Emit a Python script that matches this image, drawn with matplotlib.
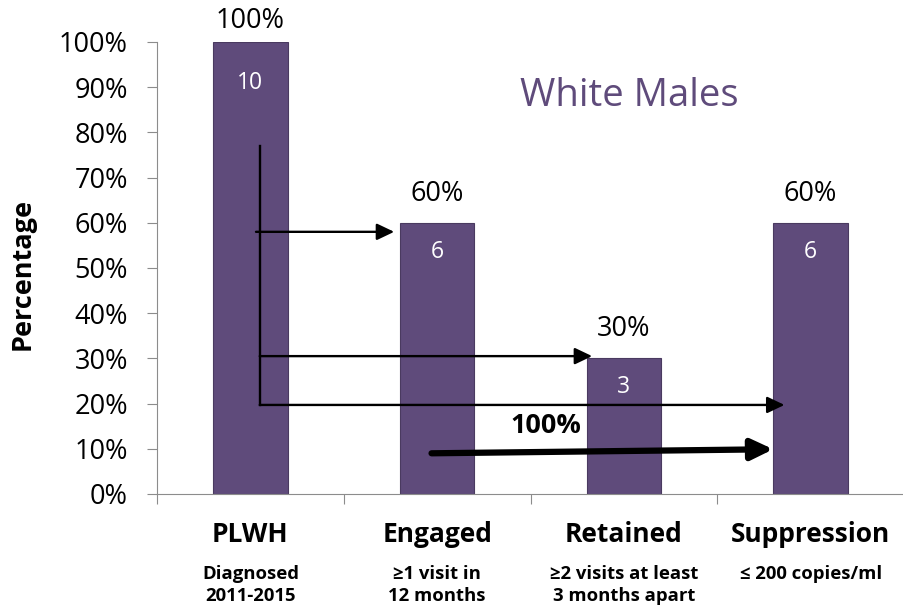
import matplotlib.pyplot as plt

categories = ["PLWH", "Engaged", "Retained", "Suppression"]
subtitles = ["Diagnosed\n2011-2015", "≥1 visit in\n12 months",
             "≥2 visits at least\n3 months apart", "≤ 200 copies/ml"]
percentages = [100, 60, 30, 60]
counts = [10, 6, 3, 6]
ticks = list(range(0, 101, 10))

bar_color = "#5f4b7b"
axis_color = "#8c8c8c"

plt.rcParams["font.family"] = ["Open Sans", "DejaVu Sans"]

fig = plt.figure(figsize=(9.04, 6.05), dpi=100)
ax = fig.add_axes([0.1737, 0.1835, 0.8263, 0.7471])

x = list(range(len(categories)))
ax.bar(x, percentages, width=0.4, color=bar_color, edgecolor="#4a3a60",
       linewidth=0.8, zorder=2)

for xi, p, c in zip(x, percentages, counts):
    top_off = 21 if p >= 100 else 29
    ax.annotate(f"{p}%", (xi, p), xytext=(0, top_off * 0.72),
                textcoords="offset points", ha="center", va="center",
                fontsize=19.5)
    inner_off = 41 if p >= 100 else 29
    ax.annotate(str(c), (xi, p), xytext=(0, -inner_off * 0.72),
                textcoords="offset points", ha="center", va="center",
                fontsize=16.5, color="white")

ax.set_xlim(-0.5, 3.5)
ax.set_ylim(0, 100)
ax.set_yticks(ticks)
ax.set_yticklabels([f"{t}%" for t in ticks], fontsize=19.5)
ax.set_xticks([-0.5, 0.5, 1.5, 2.5, 3.5])
ax.set_xticklabels([])
ax.tick_params(axis="y", length=7, color=axis_color, pad=14)
ax.tick_params(axis="x", length=7, color=axis_color, direction="out")
for side in ["top", "right"]:
    ax.spines[side].set_visible(False)
ax.spines["left"].set_color(axis_color)
ax.spines["bottom"].set_color(axis_color)

fig.text(23 / 904, 1 - 274 / 605, "Percentage", rotation=90, ha="center",
         va="center", fontsize=19.5, fontweight="bold")

for xi, cat, sub in zip(x, categories, subtitles):
    ax.annotate(cat, (xi, 0), xytext=(0, -41 * 0.72),
                textcoords="offset points", ha="center", va="center",
                fontsize=19, fontweight="bold")
    ax.annotate(sub, (xi, 0), xytext=(0, -71 * 0.72),
                textcoords="offset points", ha="center", va="top",
                fontsize=13.3, fontweight="bold", linespacing=1.3)

ax.text(2.03, 88, "White Males", ha="center", va="center", fontsize=27.5,
        color=bar_color)

# flow arrows
ax.plot([0.05, 0.05], [77, 19.7], color="black", lw=1.7, zorder=3)
arrow = dict(arrowstyle="-|>,head_length=1.05,head_width=0.5", color="black",
             lw=1.7, shrinkA=0, shrinkB=0)
ax.annotate("", xy=(0.77, 58), xytext=(0.03, 58), arrowprops=arrow)
ax.annotate("", xy=(1.83, 30.5), xytext=(0.05, 30.5), arrowprops=arrow)
ax.annotate("", xy=(2.86, 19.7), xytext=(0.05, 19.7), arrowprops=arrow)
thick = dict(arrowstyle="-|>,head_length=1.3,head_width=0.62", color="black",
             lw=4.5, shrinkA=0, shrinkB=0)
ax.annotate("", xy=(2.80, 9.9), xytext=(0.97, 9.0), arrowprops=thick)
ax.text(1.58, 15, "100%", ha="center", va="center", fontsize=19.5,
        fontweight="bold")

fig.savefig("out.png", dpi=100)
